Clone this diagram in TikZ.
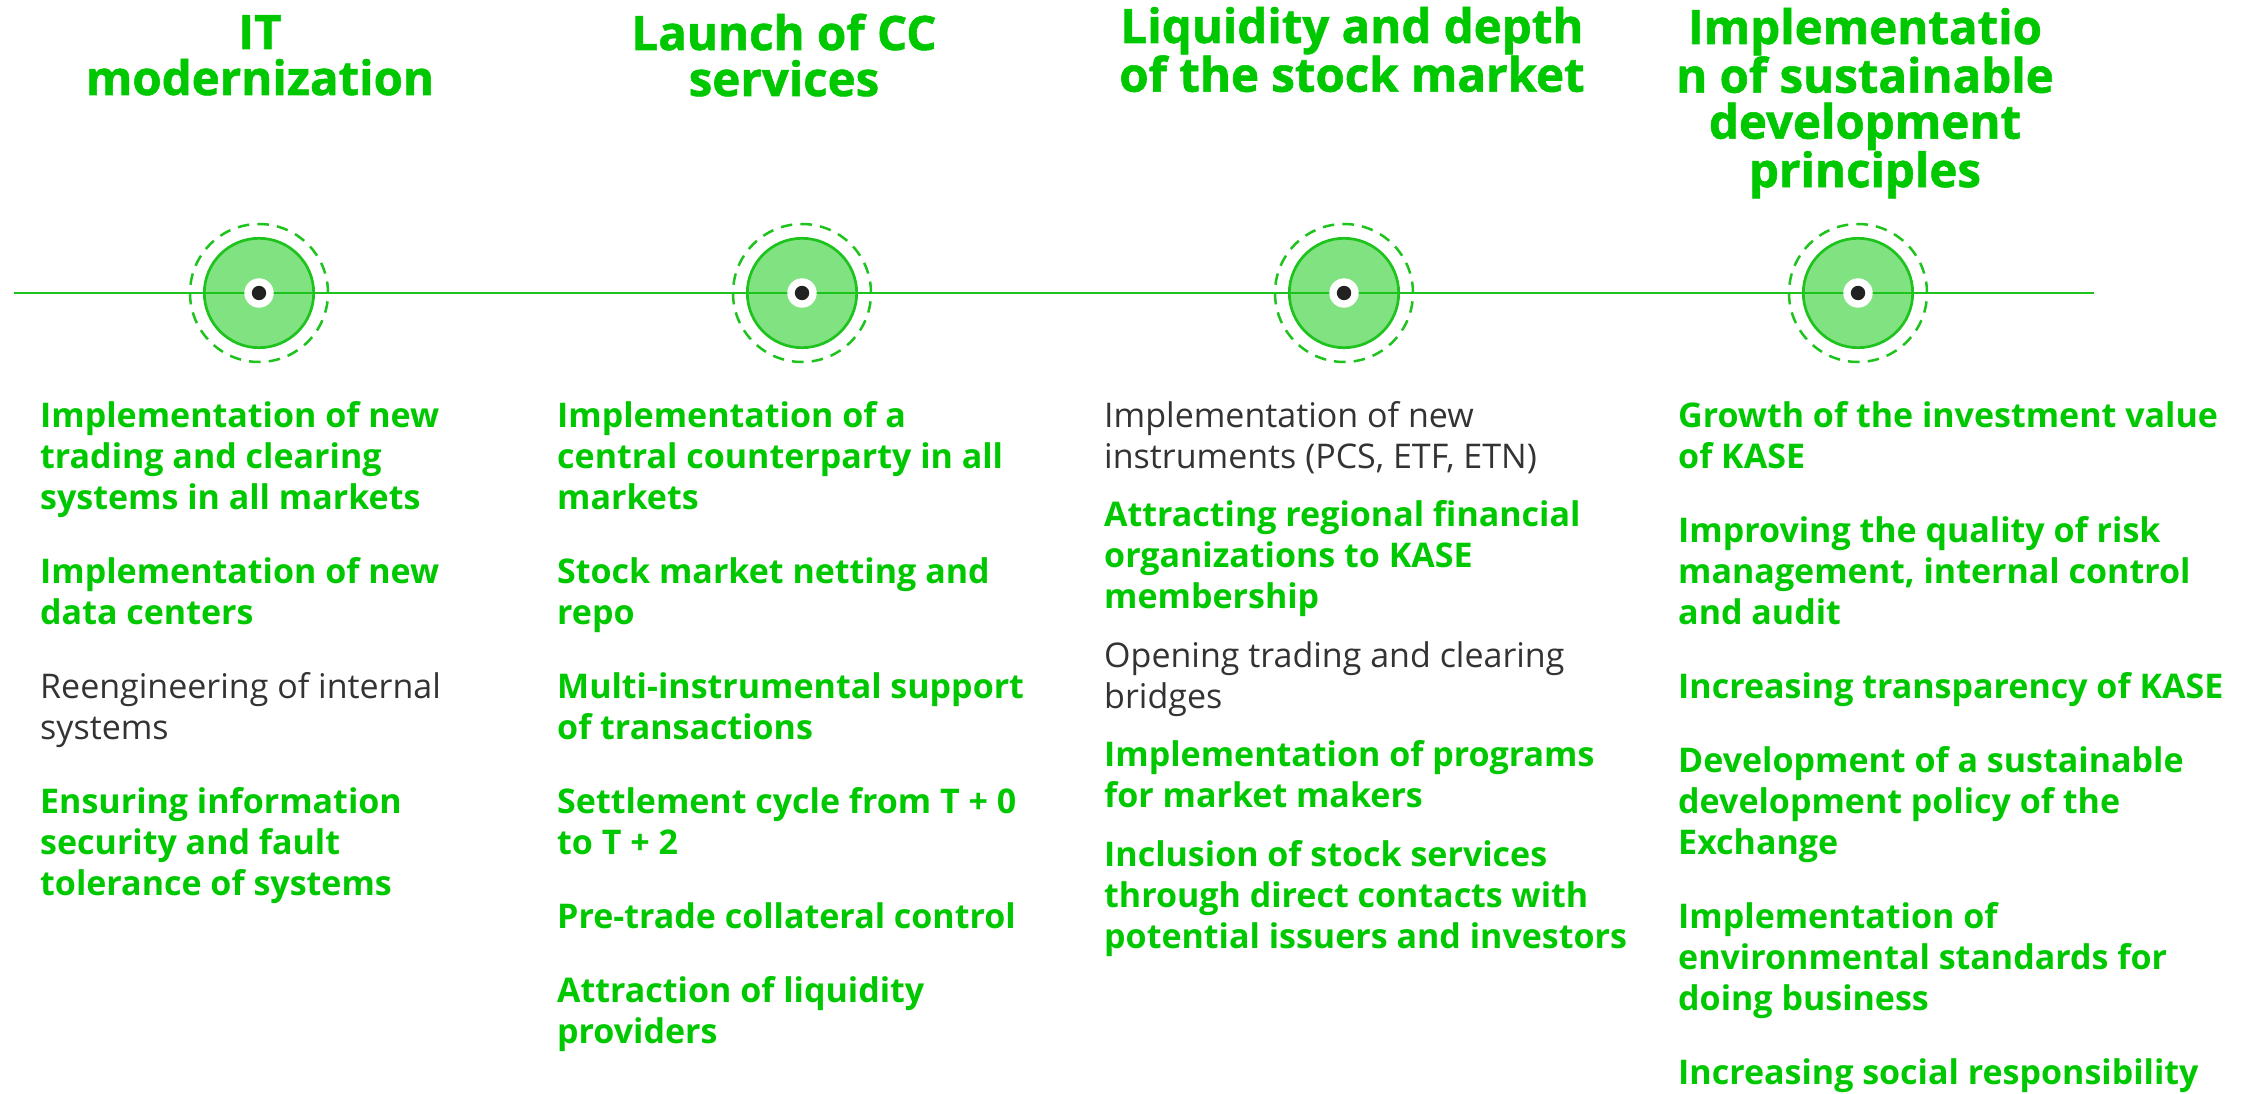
\documentclass[tikz,border=0pt]{standalone}
\usepackage{fontspec}
\setmainfont{Open Sans}
\newfontfamily\ttlfont{Open Sans}[BoldFeatures={FakeBold=1.2}]
\definecolor{kgreen}{RGB}{0,200,0}
\definecolor{kline}{RGB}{30,195,30}
\definecolor{kfill}{RGB}{128,226,128}
\definecolor{kgray}{RGB}{51,51,51}
\definecolor{kdot}{RGB}{34,34,34}
\newcommand\stackL[1]{\vtop{\halign{##\hfil\cr#1\crcr}}}
\newcommand\stackC[1]{\vtop{\halign{\hfil##\hfil\cr#1\crcr}}}
\tikzset{
  ring/.style={circle, inner sep=0pt, minimum size=138pt, draw=kline, line width=2.5pt, dash pattern=on 11.5pt off 8.2pt},
  disc/.style={circle, inner sep=0pt, minimum size=109.4pt, draw=kline, fill=kfill, line width=2.7pt},
  hole/.style={circle, inner sep=0pt, minimum size=29.4pt, fill=white},
  bdot/.style={circle, inner sep=0pt, minimum size=14.4pt, fill=kdot},
  axis/.style={draw=kline, line width=2.2pt},
  ttl/.style={anchor=base, inner sep=0pt, text=kgreen, font=\fontsize{47.4}{46}\selectfont\ttlfont\bfseries},
  gitem/.style={anchor=base west, inner sep=0pt, text=kgreen, font=\fontsize{34}{41.2}\selectfont\bfseries},
  ditem/.style={anchor=base west, inner sep=0pt, text=kgray, font=\fontsize{34}{41.2}\selectfont},
}
\begin{document}
\begin{tikzpicture}[x=1pt,y=-1pt]
\path[fill=white, use as bounding box] (0,0) rectangle (2241,1094);
% circles
\foreach \n/\x in {1/259,2/802,3/1344,4/1858}{
  \node[ring] (ring\n) at (\x,293) {};
  \node[disc] (disc\n) at (\x,293) {};
}
\coordinate (L) at (14,293);
\coordinate (R) at (2094,293);
\draw[axis] (L) -- (R);
\foreach \n/\x in {1/259,2/802,3/1344,4/1858}{
  \node[hole] (hole\n) at (\x,293) {};
  \node[bdot] (dot\n) at (\x,293) {};
}
% titles
\node[ttl] (t1) at (260,49) {\stackC{IT\cr modernization}};
\node[ttl] (t2) at (784,50) {\stackC{Launch of CC\cr services}};
\node[ttl] (t3) at (1352,43) {\stackC{Liquidity and depth\cr of the stock market}};
\node[ttl] (t4) at (1865,44) {\stackC{Implementatio\cr n of sustainable\cr development\cr principles}};
% column 1
\node[gitem] (c1a) at (40,427) {\stackL{Implementation of new\cr trading and clearing\cr systems in all markets}};
\node[gitem] (c1b) at (40,583.2) {\stackL{Implementation of new\cr data centers}};
\node[ditem] (c1c) at (40,698.2) {\stackL{Reengineering of internal\cr systems}};
\node[gitem] (c1d) at (40,813.2) {\stackL{Ensuring information\cr security and fault\cr tolerance of systems}};
% column 2
\node[gitem] (c2a) at (557,427) {\stackL{Implementation of a\cr central counterparty in all\cr markets}};
\node[gitem] (c2b) at (557,583.2) {\stackL{Stock market netting and\cr repo}};
\node[gitem] (c2c) at (557,698.2) {\stackL{Multi-instrumental support\cr of transactions}};
\node[gitem] (c2d) at (557,813.2) {\stackL{Settlement cycle from T + 0\cr to T + 2}};
\node[gitem] (c2e) at (557,928.2) {\stackL{Pre-trade collateral control}};
\node[gitem] (c2f) at (557,1002) {\stackL{Attraction of liquidity\cr providers}};
% column 3
\node[ditem] (c3a) at (1104,427) {\stackL{Implementation of new\cr instruments (PCS, ETF, ETN)}};
\node[gitem] (c3b) at (1104,526.5) {\stackL{Attracting regional financial\cr organizations to KASE\cr membership}};
\node[ditem] (c3c) at (1104,667.2) {\stackL{Opening trading and clearing\cr bridges}};
\node[gitem] (c3d) at (1104,766.7) {\stackL{Implementation of programs\cr for market makers}};
\node[gitem] (c3e) at (1104,866.2) {\stackL{Inclusion of stock services\cr through direct contacts with\cr potential issuers and investors}};
% column 4
\node[gitem] (c4a) at (1678,427) {\stackL{Growth of the investment value\cr of KASE}};
\node[gitem] (c4b) at (1678,542) {\stackL{Improving the quality of risk\cr management, internal control\cr and audit}};
\node[gitem] (c4c) at (1678,698.2) {\stackL{Increasing transparency of KASE}};
\node[gitem] (c4d) at (1678,772) {\stackL{Development of a sustainable\cr development policy of the\cr Exchange}};
\node[gitem] (c4e) at (1678,928.2) {\stackL{Implementation of\cr environmental standards for\cr doing business}};
\node[gitem] (c4f) at (1678,1084.4) {\stackL{Increasing social responsibility}};
\end{tikzpicture}
\end{document}
